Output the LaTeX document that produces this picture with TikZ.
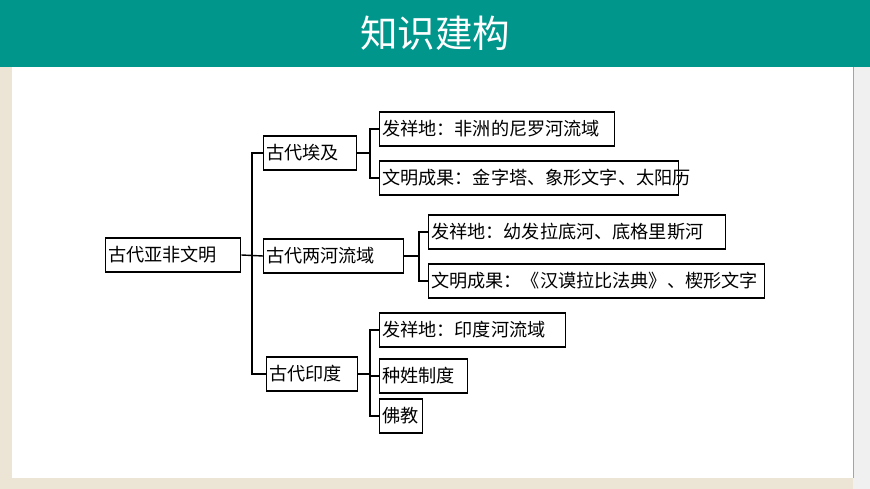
\documentclass[tikz,border=0pt]{standalone}
\usepackage{fontspec}
\newfontfamily\cjk{Noto Sans CJK SC}
\definecolor{teal1}{RGB}{0,150,140}
\definecolor{sand}{RGB}{236,228,212}
\tikzset{box/.style={draw, line width=1.2pt, anchor=west, minimum height=34*0.03cm, inner xsep=2pt, text width=#1*0.03cm-4pt, align=left, font=\cjk\fontsize{15.5}{15.5}\selectfont},
         link/.style={line width=1.2pt}}
\begin{document}
\begin{tikzpicture}[x=0.03cm, y=-0.03cm]
\useasboundingbox (0,0) rectangle (870,489);
\fill[sand] (0,0) rectangle (870,489);
\fill[gray!12] (853,67) rectangle (870,489);
\fill[white] (12,67) rectangle (853,478);
\draw[teal1!60] (853,67) -- (853,478);
\fill[teal1] (0,0) rectangle (870,67);
\node[text=white, font=\cjk\fontsize{32}{32}\selectfont] (title) at (435,33) {知识建构};

\node[box=135] (root) at (105,255) {古代亚非文明};

\node[box=93] (egypt) at (263,153) {古代埃及};
\node[box=140] (meso) at (263,256) {古代两河流域};
\node[box=91] (india) at (266,374) {古代印度};

\node[box=235] (e1) at (379,129) {发祥地：非洲的尼罗河流域};
\node[box=299] (e2) at (379,178) {文明成果：金字塔、象形文字、太阳历};
\node[box=297] (m1) at (428,232) {发祥地：幼发拉底河、底格里斯河};
\node[box=336] (m2) at (428,281) {文明成果：《汉谟拉比法典》、楔形文字};
\node[box=186] (i1) at (379,330) {发祥地：印度河流域};
\node[box=88] (i2) at (379,376) {种姓制度};
\node[box=43] (i3) at (379,416) {佛教};

% first level
\coordinate (j0) at (252,255);
\draw[link] (root.east) -- (meso.west);
\draw[link] (egypt.west) -| (j0) |- (india.west);
% second level
\draw[link] (egypt.east) -- (370,153);
\draw[link] (e1.west) -| (370,153) |- (e2.west);
\draw[link] (meso.east) -- (419,256);
\draw[link] (m1.west) -| (419,256) |- (m2.west);
\draw[link] (india.east) -- (370,374);
\draw[link] (i1.west) -| (370,374) |- (i3.west);
\draw[link] (370,376) -- (i2.west);
\end{tikzpicture}
\end{document}
